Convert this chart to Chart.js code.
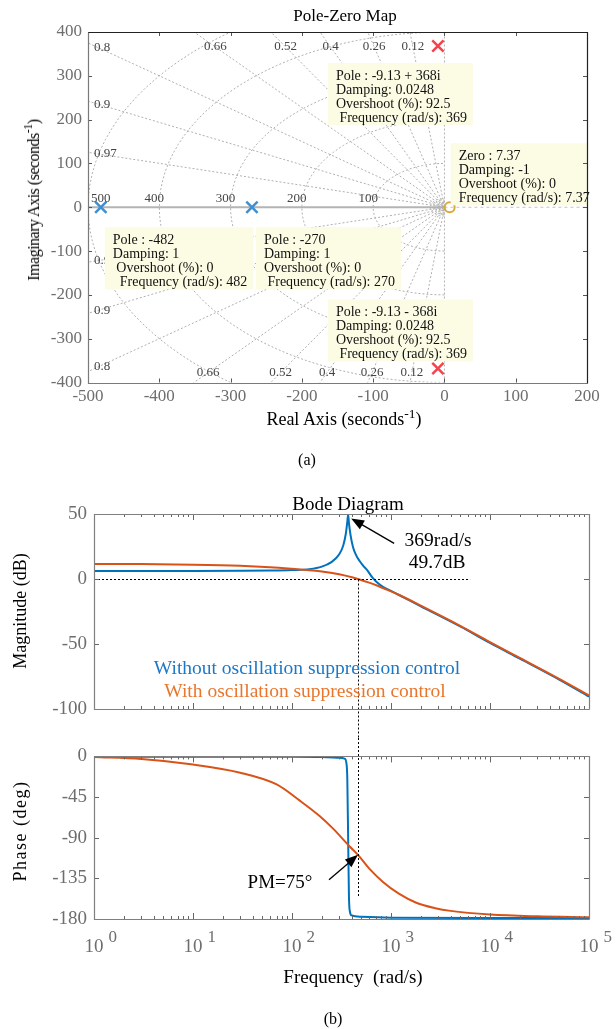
<!DOCTYPE html>
<html>
<head>
<meta charset="utf-8">
<script src="https://cdn.jsdelivr.net/npm/chart.js@4.4.1/dist/chart.umd.min.js"></script>
<style>
body{margin:0;background:#fff;}
#page{position:relative;width:616px;height:1029px;font-family:'Liberation Serif','Times New Roman',serif;overflow:hidden;}
canvas{position:absolute;left:0;}
.t{position:absolute;transform:translate(-50%,-50%);white-space:nowrap;color:#000;line-height:1;}
.v{position:absolute;transform:translate(-50%,-50%) rotate(-90deg);white-space:nowrap;color:#000;line-height:1;}
sup{font-size:0.75em;vertical-align:0.55em;line-height:0;}
</style>
</head>
<body>
<div id="page">
<canvas id="pz" width="616" height="410" style="top:0;width:616px;height:410px"></canvas>
<canvas id="mag" width="616" height="250" style="top:488px;width:616px;height:250px"></canvas>
<canvas id="ph" width="616" height="262" style="top:738px;width:616px;height:262px"></canvas>

<div class="t" style="left:345px;top:15px;font-size:17px">Pole-Zero Map</div>
<div class="v" style="left:34px;top:200px;font-size:16px;letter-spacing:-0.5px">Imaginary Axis (seconds<sup>-1</sup>)</div>
<div class="t" style="left:344px;top:419px;font-size:18px">Real Axis (seconds<sup>-1</sup>)</div>
<div class="t" style="left:307px;top:460px;font-size:16px">(a)</div>

<div class="t" style="left:348px;top:503px;font-size:19px">Bode Diagram</div>
<div class="v" style="left:20px;top:611px;font-size:18px">Magnitude (dB)</div>
<div class="v" style="left:20px;top:831px;font-size:18px;letter-spacing:1.5px">Phase (deg)</div>
<div class="t" style="left:307px;top:668px;font-size:19.5px;color:#1a78c8">Without oscillation suppression control</div>
<div class="t" style="left:305px;top:691px;font-size:19.5px;color:#e8762d">With oscillation suppression control</div>
<div class="t" style="left:353px;top:976px;font-size:19px;white-space:pre">Frequency  (rad/s)</div>
<div class="t" style="left:333px;top:1019px;font-size:16px">(b)</div>
</div>

<script>
// ---------- pole-zero map data ----------
const realPoles = [-482, -270];
const cplxPoleRe = -9.13;
const cplxPoleIm = [368, -368];
const zeroLoc = [7.37];
const dampLevels = [0.12, 0.26, 0.4, 0.52, 0.66, 0.8, 0.9, 0.97];
const natFreqs = [100, 200, 300, 400, 500];
const smallFreqs = [4, 8, 12, 16, 20];
const pzXTicks = [-500, -400, -300, -200, -100, 0, 100, 200];
const pzYTicks = [-400, -300, -200, -100, 0, 100, 200, 300, 400];
const tipAnchors = [[-9.13, 368], [7.37, 0], [-482, 0], [-270, 0], [-9.13, -368]];
const tipText = [
  ['Pole : -9.13 + 368i', 'Damping: 0.0248', 'Overshoot (%): 92.5', ' Frequency (rad/s): 369'],
  ['Zero : 7.37', 'Damping: -1', 'Overshoot (%): 0', 'Frequency (rad/s): 7.37'],
  ['Pole : -482', 'Damping: 1', ' Overshoot (%): 0', '  Frequency (rad/s): 482'],
  ['Pole : -270', 'Damping: 1', 'Overshoot (%): 0', ' Frequency (rad/s): 270'],
  ['Pole : -9.13 - 368i', 'Damping: 0.0248', 'Overshoot (%): 92.5', ' Frequency (rad/s): 369']
];

// ---------- bode data ----------
const magFreqBlue = [1, 3, 10, 30, 60, 100, 150, 200, 250, 300, 330, 350, 362, 369, 376, 390, 413, 440, 480, 520, 572, 650, 720, 830, 1000, 1230, 2000, 5000, 10000, 20000, 50000, 100000];
const magBlue = [6.2, 6.2, 6.2, 6.3, 6.5, 6.9, 7.6, 9.5, 13, 19, 26, 35, 44, 49.7, 43, 34, 24.6, 19, 14, 10.5, 7, 1, -2.5, -6, -9.2, -12.7, -21, -36.5, -49.2, -61.3, -77.4, -90.5];
const magFreqOrange = [1, 3, 10, 30, 60, 100, 150, 200, 300, 413, 464, 600, 720, 830, 1000, 1230, 2000, 5000, 10000, 20000, 50000, 100000];
const magOrange = [11.6, 11.5, 11, 10.1, 9, 7.8, 6.7, 5.8, 3.6, 1.1, 0, -2.8, -5, -7, -9.5, -12.5, -20.5, -36, -48.5, -60.7, -76.8, -89.6];
const phFreqBlue = [1, 10, 100, 200, 300, 340, 355, 362, 369, 376, 385, 400, 500, 1000, 10000, 100000];
const phBlue = [-0.4, -0.4, -0.5, -0.8, -1.5, -2.5, -8, -25, -90, -155, -172, -176, -177.5, -178.5, -179, -179];
const phFreqOrange = [1, 3, 10, 30, 70, 120, 190, 260, 385, 464, 600, 830, 1200, 1800, 2800, 4000, 10000, 30000, 100000];
const phOrange = [-0.7, -3, -9, -18, -31, -49, -66, -80, -100, -109, -124, -139, -152, -162, -168, -171, -175, -177, -178];
const decades = [1, 10, 100, 1000, 10000, 100000];
const decadeExp = ['0', '1', '2', '3', '4', '5'];
const magTicks = [-100, -50, 0, 50];
const phTicks = [-180, -135, -90, -45, 0];
const crossFreq = 464;
const zeroDbLineEnd = 6300;
const pmLineEnd = -155;
const peakF = 369, peakDb = 49.7;
const pmDeg = -109;

const pts = (xs, ys) => xs.map((x, i) => ({x: x, y: ys[i]}));
const FONT = "'Liberation Serif', 'Times New Roman', serif";
Chart.defaults.font.family = FONT;

// inward ticks + box
const framePlugin = {
  id: 'frame',
  afterDraw(chart, args, o) {
    const {ctx, chartArea: a, scales: {x, y}} = chart;
    ctx.save();
    ctx.lineWidth = 1;
    ctx.strokeStyle = o.tick;
    ctx.beginPath();
    o.xTicks.forEach(t => {
      const px = Math.round(x.getPixelForValue(t[0])) + 0.5;
      ctx.moveTo(px, a.bottom); ctx.lineTo(px, a.bottom - t[1]);
      ctx.moveTo(px, a.top); ctx.lineTo(px, a.top + t[1]);
    });
    o.yTicks.forEach(v => {
      const py = Math.round(y.getPixelForValue(v)) + 0.5;
      ctx.moveTo(a.left, py); ctx.lineTo(a.left + o.len, py);
      ctx.moveTo(a.right, py); ctx.lineTo(a.right - o.len, py);
    });
    ctx.stroke();
    const L = Math.round(a.left) + 0.5, R = Math.round(a.right) + 0.5;
    const T = Math.round(a.top) + 0.5, B = Math.round(a.bottom) + 0.5;
    ctx.lineWidth = 1.2;
    ctx.strokeStyle = o.lb;
    ctx.beginPath(); ctx.moveTo(L, T); ctx.lineTo(L, B); ctx.lineTo(R, B); ctx.stroke();
    ctx.strokeStyle = o.tr;
    ctx.beginPath(); ctx.moveTo(L, T); ctx.lineTo(R, T); ctx.lineTo(R, B); ctx.stroke();
    ctx.restore();
  }
};

// ---------- pole-zero chart ----------
const dotted = {showLine: true, pointRadius: 0, borderColor: '#b0b0b0', borderWidth: 1, borderDash: [2, 2], tension: 0};
const gridSets = [];
dampLevels.forEach(z => {
  const R = 3000, s = Math.sqrt(1 - z * z);
  gridSets.push(Object.assign({}, dotted, {data: [{x: -R * z, y: R * s}, {x: 0, y: 0}, {x: -R * z, y: -R * s}]}));
});
natFreqs.concat(smallFreqs).forEach(r => {
  const d = [];
  for (let t = -90; t <= 90; t += 3) d.push({x: -r * Math.cos(t * Math.PI / 180), y: r * Math.sin(t * Math.PI / 180)});
  gridSets.push(Object.assign({}, dotted, {data: d}));
});
gridSets.push({showLine: true, pointRadius: 0, borderColor: '#b4b4b4', borderWidth: 2, data: [{x: -500, y: 0}, {x: 0, y: 0}]});
gridSets.push(Object.assign({}, dotted, {data: [{x: 0, y: -400}, {x: 0, y: 400}]}));
gridSets.push(Object.assign({}, dotted, {borderColor: '#c4c4c4', borderDash: [3, 3], data: [{x: 0, y: 0}, {x: 200, y: 0}]}));

const markSets = [
  {data: realPoles.map(p => ({x: p, y: 0})), pointStyle: 'crossRot', pointRadius: 8, pointBorderWidth: 2.5,
   borderColor: '#3f8fd2', backgroundColor: '#3f8fd2', showLine: false},
  {data: cplxPoleIm.map(im => ({x: cplxPoleRe, y: im})), pointStyle: 'crossRot', pointRadius: 8, pointBorderWidth: 2.5,
   borderColor: '#f5424b', backgroundColor: '#f5424b', showLine: false},
  {data: zeroLoc.map(z => ({x: z, y: 0})), pointStyle: 'circle', pointRadius: 5, pointBorderWidth: 2,
   borderColor: '#dba83c', backgroundColor: 'rgba(255,255,255,0)', showLine: false}
];

const tipOffsets = [[-110, 17], [1, -64], [4, 20], [4, 20], [-110, -69]];
const pzOverlay = {
  id: 'pzOverlay',
  afterDatasetsDraw(chart) {
    const {ctx, chartArea: a, scales: {x, y}} = chart;
    ctx.save();
    ctx.beginPath(); ctx.rect(a.left, a.top, a.right - a.left, a.bottom - a.top); ctx.clip();
    // damping labels
    ctx.font = '13px ' + FONT;
    ctx.fillStyle = '#444';
    ctx.textBaseline = 'middle';
    ctx.textAlign = 'center';
    dampLevels.forEach(z => {
      const s = Math.sqrt(1 - z * z) / z;
      [1, -1].forEach(sg => {
        let py = sg > 0 ? a.top + 15 : a.bottom - 10;
        let xv = -Math.abs(y.getValueForPixel(py)) / s;
        if (xv < -485) { xv = -485; py = y.getPixelForValue(sg * 485 * s); }
        const lbl = String(z), w = ctx.measureText(lbl).width;
        let px = x.getPixelForValue(xv);
        if (px - w / 2 < a.left + 6) px = a.left + 6 + w / 2;
        ctx.fillText(lbl, px, py);
      });
    });
    // natural frequency labels
    natFreqs.forEach(r => {
      const lbl = String(r), w = ctx.measureText(lbl).width;
      let px = x.getPixelForValue(-r) - 5;
      if (px - w / 2 < a.left + 3) px = a.left + 3 + w / 2;
      ctx.fillText(lbl, px, y.getPixelForValue(0) - 9);
    });
    // data tip boxes (clipped to axes)
    ctx.font = '14px ' + FONT;
    ctx.textAlign = 'left';
    const boxes = tipText.map((lines, i) => ({
      lines: lines,
      ax: x.getPixelForValue(tipAnchors[i][0]) + tipOffsets[i][0],
      ay: y.getPixelForValue(tipAnchors[i][1]) + tipOffsets[i][1],
      w: Math.max.apply(null, lines.map(l => ctx.measureText(l).width)) + 14
    }));
    ctx.fillStyle = '#fcfce5';
    boxes.forEach(b => ctx.fillRect(b.ax, b.ay, b.w, 62));
    ctx.restore();
    // tip text, not clipped
    ctx.save();
    ctx.font = '14px ' + FONT;
    ctx.textAlign = 'left';
    ctx.textBaseline = 'middle';
    ctx.fillStyle = '#111';
    boxes.forEach(b => b.lines.forEach((l, k) => ctx.fillText(l, b.ax + 8, b.ay + 13 + k * 14)));
    ctx.restore();
  }
};

new Chart(document.getElementById('pz'), {
  type: 'scatter',
  data: {datasets: markSets.concat(gridSets)},
  options: {
    responsive: false, animation: false, devicePixelRatio: 1, events: [],
    layout: {padding: {left: 0, top: 32, right: 29, bottom: 0}},
    plugins: {legend: {display: false}, tooltip: {enabled: false},
      frame: {tick: '#555', len: 4, lb: '#7a7a7a', tr: '#222', xTicks: pzXTicks.map(v => [v, 4]), yTicks: pzYTicks}},
    scales: {
      x: {type: 'linear', min: -500, max: 200, grid: {display: false, drawTicks: false}, border: {display: false},
          ticks: {stepSize: 100, color: '#6e6e6e', font: {size: 17}, padding: 4},
          afterFit: s => { s.height = 27.5; }},
      y: {type: 'linear', min: -400, max: 400, grid: {display: false, drawTicks: false}, border: {display: false},
          ticks: {stepSize: 100, color: '#6e6e6e', font: {size: 17}, padding: 6},
          afterFit: s => { s.width = 88; }}
    }
  },
  plugins: [pzOverlay, framePlugin]
});

// ---------- bode charts ----------
const bodeXTicks = [];
decades.forEach((d, i) => {
  bodeXTicks.push([d, 6]);
  if (i < decades.length - 1) for (let k = 2; k <= 9; k++) bodeXTicks.push([d * k, 3]);
});

function drawArrow(ctx, x0, y0, x1, y1) {
  const ang = Math.atan2(y1 - y0, x1 - x0), L = 13, W = 5;
  ctx.beginPath(); ctx.moveTo(x0, y0); ctx.lineTo(x1 - L * 0.8 * Math.cos(ang), y1 - L * 0.8 * Math.sin(ang)); ctx.stroke();
  ctx.beginPath();
  ctx.moveTo(x1, y1);
  ctx.lineTo(x1 - L * Math.cos(ang) + W * Math.sin(ang), y1 - L * Math.sin(ang) - W * Math.cos(ang));
  ctx.lineTo(x1 - L * Math.cos(ang) - W * Math.sin(ang), y1 - L * Math.sin(ang) + W * Math.cos(ang));
  ctx.closePath(); ctx.fill();
}

const magOverlay = {
  id: 'magOverlay',
  afterDraw(chart) {
    const {ctx, scales: {x, y}} = chart;
    ctx.save();
    ctx.strokeStyle = '#000'; ctx.lineWidth = 1; ctx.setLineDash([2, 2]);
    const y0 = Math.round(y.getPixelForValue(0)) + 0.5, xc = Math.round(x.getPixelForValue(crossFreq)) + 0.5;
    ctx.beginPath();
    ctx.moveTo(x.getPixelForValue(1), y0); ctx.lineTo(x.getPixelForValue(zeroDbLineEnd), y0);
    ctx.moveTo(xc, y0); ctx.lineTo(xc, chart.height);
    ctx.stroke();
    ctx.setLineDash([]);
    const tx = x.getPixelForValue(peakF) + 3, ty = y.getPixelForValue(peakDb) + 4;
    ctx.fillStyle = '#000'; ctx.lineWidth = 1.3;
    drawArrow(ctx, tx + 43, ty + 25, tx, ty);
    ctx.font = '19.5px ' + FONT; ctx.textAlign = 'center'; ctx.textBaseline = 'middle';
    ctx.fillText('369rad/s', tx + 87, ty + 22);
    ctx.fillText('49.7dB', tx + 86, ty + 44);
    ctx.restore();
  }
};

const phOverlay = {
  id: 'phOverlay',
  afterDraw(chart) {
    const {ctx, chartArea: a, scales: {x, y}} = chart;
    ctx.save();
    ctx.strokeStyle = '#000'; ctx.lineWidth = 1; ctx.setLineDash([2, 2]);
    const xc = Math.round(x.getPixelForValue(crossFreq)) + 0.5;
    ctx.beginPath(); ctx.moveTo(xc, 0); ctx.lineTo(xc, y.getPixelForValue(pmLineEnd)); ctx.stroke();
    ctx.setLineDash([]);
    const tx = x.getPixelForValue(crossFreq), ty = y.getPixelForValue(pmDeg);
    ctx.fillStyle = '#000'; ctx.lineWidth = 1.3;
    drawArrow(ctx, tx - 29, ty + 25, tx, ty);
    ctx.font = '19px ' + FONT; ctx.textAlign = 'center'; ctx.textBaseline = 'middle';
    ctx.fillText('PM=75°', tx - 78, ty + 28);
    // decade labels 10^n
    ctx.fillStyle = '#6e6e6e';
    decades.forEach((d, i) => {
      const px = x.getPixelForValue(d);
      ctx.font = '19px ' + FONT; ctx.textAlign = 'center';
      const w = ctx.measureText('10').width;
      ctx.fillText('10', px, a.bottom + 28);
      ctx.font = '17px ' + FONT; ctx.textAlign = 'left';
      ctx.fillText(decadeExp[i], px + w / 2 + 5, a.bottom + 19);
    });
    ctx.restore();
  }
};

function bodeOptions(padTop, xHeight, yMin, yMax, step, yTicks) {
  return {
    responsive: false, animation: false, devicePixelRatio: 1, events: [],
    layout: {padding: {left: 0, top: padTop, right: 27, bottom: 0}},
    plugins: {legend: {display: false}, tooltip: {enabled: false},
      frame: {tick: '#666', len: 5, lb: '#7f7f7f', tr: '#7f7f7f', xTicks: bodeXTicks, yTicks: yTicks}},
    scales: {
      x: {type: 'logarithmic', min: 1, max: 100000, grid: {display: false, drawTicks: false}, border: {display: false},
          ticks: {display: false}, afterFit: s => { s.height = xHeight; }},
      y: {type: 'linear', min: yMin, max: yMax, grid: {display: false, drawTicks: false}, border: {display: false},
          ticks: {stepSize: step, color: '#6e6e6e', font: {size: 19}, padding: 7},
          afterFit: s => { s.width = 94; }}
    }
  };
}
const lineStyle = {pointRadius: 0, borderWidth: 2, cubicInterpolationMode: 'monotone', fill: false};

new Chart(document.getElementById('mag'), {
  type: 'line',
  data: {datasets: [
    Object.assign({}, lineStyle, {label: 'With oscillation suppression control', borderColor: '#d95319', data: pts(magFreqOrange, magOrange)}),
    Object.assign({}, lineStyle, {label: 'Without oscillation suppression control', borderColor: '#0072bd', data: pts(magFreqBlue, magBlue)})
  ]},
  options: bodeOptions(26, 29, -100, 50, 50, magTicks),
  plugins: [magOverlay, framePlugin]
});

new Chart(document.getElementById('ph'), {
  type: 'line',
  data: {datasets: [
    Object.assign({}, lineStyle, {label: 'With oscillation suppression control', borderColor: '#d95319', data: pts(phFreqOrange, phOrange)}),
    Object.assign({}, lineStyle, {label: 'Without oscillation suppression control', borderColor: '#0072bd', data: pts(phFreqBlue, phBlue)})
  ]},
  options: bodeOptions(11, 81, -180, 0, 45, phTicks),
  plugins: [phOverlay, framePlugin]
});
</script>
</body>
</html>
